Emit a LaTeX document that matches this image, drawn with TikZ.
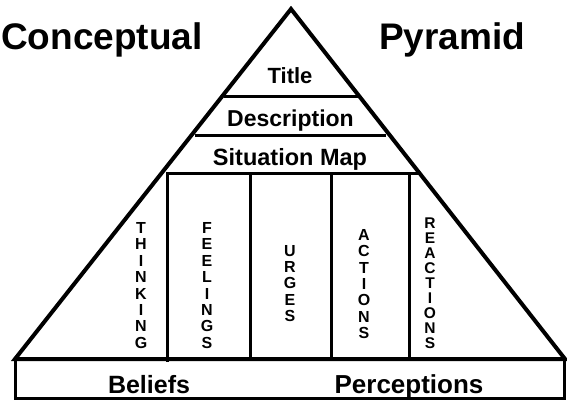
\documentclass[tikz,border=0pt]{standalone}
\usepackage{fontspec}
\setmainfont{Liberation Sans}
\begin{document}
\begin{tikzpicture}[x=1pt,y=-1pt,
  edge/.style={line width=4pt,line join=miter},
  inner/.style={line width=3pt},
  big/.style={font=\fontsize{37}{40}\selectfont\bfseries,inner sep=0pt,anchor=base west},
  layer/.style={inner sep=0pt,anchor=base},
  vert/.style={align=center,inner sep=0pt,font=\fontsize{16}{16.4}\selectfont\bfseries}]
\useasboundingbox (0,0) rectangle (567,404);
\coordinate (apex) at (291,9);
\coordinate (bl) at (15,359);
\coordinate (br) at (565,359);
% pyramid
\draw[edge] (bl) -- (apex) -- (br) -- cycle;
% base rectangle
\draw[inner] (15,359) rectangle (564,398);
% layer lines
\coordinate (t1) at (224,96); \coordinate (t2) at (359,96);
\coordinate (d1) at (195,135); \coordinate (d2) at (386,135);
\coordinate (s1) at (166,173); \coordinate (s2) at (419,173);
\draw[inner] (t1) -- (t2);
\draw[inner] (d1) -- (d2);
\draw[inner] (s1) -- (s2);
% columns
\coordinate (v1a) at (167,173); \coordinate (v1b) at (167,362);
\coordinate (v2a) at (250,173); \coordinate (v2b) at (250,359);
\coordinate (v3a) at (331,173); \coordinate (v3b) at (331,359);
\coordinate (v4a) at (409,173); \coordinate (v4b) at (409,359);
\draw[inner] (v1a) -- (v1b);
\draw[inner] (v2a) -- (v2b);
\draw[inner] (v3a) -- (v3b);
\draw[inner] (v4a) -- (v4b);
% headings
\node[big] (concept) at (1,49) {Conceptual};
\node[big] (pyr) at (379,49) {Pyramid};
% layer texts
\node[layer,font=\fontsize{22}{24}\selectfont\bfseries] (title) at (290,83) {Title};
\node[layer,font=\fontsize{23}{25}\selectfont\bfseries] (desc) at (290.5,126) {Description};
\node[layer,font=\fontsize{23.5}{25}\selectfont\bfseries] (sit) at (290,165) {Situation Map};
\node[layer,font=\fontsize{25}{27}\selectfont\bfseries] (bel) at (149,393) {Beliefs};
\node[layer,font=\fontsize{26}{28}\selectfont\bfseries] (perc) at (409,393) {Perceptions};
% vertical words
\node[vert] (think) at (141,285.5) {T\\H\\I\\N\\K\\I\\N\\G};
\node[vert] (feel) at (207,285.5) {F\\E\\E\\L\\I\\N\\G\\S};
\node[vert] (urge) at (290,283.5) {U\\R\\G\\E\\S};
\node[vert] (act) at (364,284) {A\\C\\T\\I\\O\\N\\S};
\node[vert,font=\fontsize{15.5}{15}\selectfont\bfseries] (react) at (430,283) {R\\E\\A\\C\\T\\I\\O\\N\\S};
\end{tikzpicture}
\end{document}
